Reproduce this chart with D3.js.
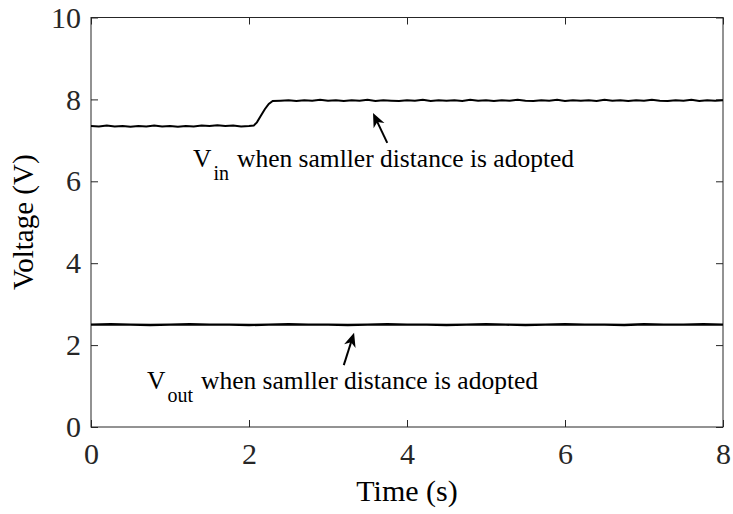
<!DOCTYPE html>
<html><head><meta charset="utf-8">
<script src="https://cdn.jsdelivr.net/npm/d3@7/dist/d3.min.js"></script>
<style>body{margin:0;background:#fff}svg{display:block}text{font-family:"Liberation Serif","Times New Roman",serif}</style>
</head><body><svg id="c" width="733" height="514"></svg>
<script>
const xTicks = [0, 2, 4, 6, 8];
const yTicks = [0, 2, 4, 6, 8, 10];
const vinTime = [0,0.1,0.2,0.3,0.4,0.5,0.6,0.7,0.8,0.9,1.0,1.1,1.2,1.3,1.4,1.5,1.6,1.7,1.8,1.9,2.0,2.06,2.1,2.15,2.2,2.25,2.3,2.4,2.5,2.6,2.7,2.8,2.9,3.0,3.1,3.2,3.3,3.4,3.5,3.6,3.7,3.8,3.9,4.0,4.1,4.2,4.3,4.4,4.5,4.6,4.7,4.8,4.9,5.0,5.1,5.2,5.3,5.4,5.5,5.6,5.7,5.8,5.9,6.0,6.1,6.2,6.3,6.4,6.5,6.6,6.7,6.8,6.9,7.0,7.1,7.2,7.3,7.4,7.5,7.6,7.7,7.8,7.9,8.0];
const vinValue = [7.35,7.34,7.36,7.34,7.35,7.33,7.35,7.34,7.36,7.34,7.35,7.33,7.35,7.34,7.36,7.35,7.37,7.35,7.36,7.34,7.35,7.36,7.44,7.60,7.76,7.89,7.96,7.97,7.98,7.96,7.98,7.97,7.99,7.97,7.98,7.96,7.98,7.97,7.99,7.96,7.98,7.97,7.96,7.98,7.97,7.99,7.96,7.98,7.97,7.98,7.96,7.99,7.97,7.98,7.96,7.98,7.97,7.99,7.97,7.96,7.98,7.97,7.99,7.96,7.98,7.97,7.98,7.96,7.99,7.97,7.98,7.96,7.98,7.97,7.99,7.97,7.96,7.98,7.97,7.99,7.96,7.98,7.97,7.98];
const voutTime = [0,0.25,0.5,0.75,1.0,1.25,1.5,1.75,2.0,2.25,2.5,2.75,3.0,3.25,3.5,3.75,4.0,4.25,4.5,4.75,5.0,5.25,5.5,5.75,6.0,6.25,6.5,6.75,7.0,7.25,7.5,7.75,8.0];
const voutValue = [2.50,2.51,2.50,2.49,2.50,2.51,2.50,2.50,2.49,2.50,2.51,2.50,2.50,2.49,2.50,2.51,2.50,2.50,2.49,2.50,2.51,2.50,2.49,2.50,2.51,2.50,2.50,2.49,2.51,2.50,2.50,2.51,2.50];

const svg = d3.select('#c');
const L = 91, R = 723, T = 17.5, B = 427;
const x = d3.scaleLinear().domain([0, 8]).range([L, R]);
const y = d3.scaleLinear().domain([0, 10]).range([B, T]);
const axisColor = '#262626';
const tickFont = '30px';

svg.append('rect').attr('x', L).attr('y', T).attr('width', R - L).attr('height', B - T)
  .attr('fill', 'none').attr('stroke', axisColor).attr('stroke-width', 1);

function styleAxis(g) {
  g.select('.domain').remove();
  g.selectAll('line').attr('stroke', axisColor);
  g.selectAll('text').attr('fill', axisColor).style('font-size', tickFont)
    .style('font-family', '"Liberation Serif","Times New Roman",serif');
}
svg.append('g').attr('transform', `translate(0,${B})`)
  .call(d3.axisBottom(x).tickValues(xTicks).tickSize(-7).tickPadding(16).tickFormat(d3.format('d')))
  .call(styleAxis);
svg.append('g').attr('transform', `translate(0,${T})`)
  .call(d3.axisTop(x).tickValues(xTicks).tickSize(-7).tickFormat(''))
  .call(styleAxis);
svg.append('g').attr('transform', `translate(${L},0)`)
  .call(d3.axisLeft(y).tickValues(yTicks).tickSize(-7).tickPadding(10).tickFormat(d3.format('d')))
  .call(styleAxis);
svg.append('g').attr('transform', `translate(${R},0)`)
  .call(d3.axisRight(y).tickValues(yTicks).tickSize(-7).tickFormat(''))
  .call(styleAxis);

const line = d3.line().x(d => x(d[0])).y(d => y(d[1]));
svg.append('path').datum(vinTime.map((t, i) => [t, vinValue[i]]))
  .attr('d', line).attr('fill', 'none').attr('stroke', '#000').attr('stroke-width', 2);
svg.append('path').datum(voutTime.map((t, i) => [t, voutValue[i]]))
  .attr('d', line).attr('fill', 'none').attr('stroke', '#000').attr('stroke-width', 2.4);

svg.append('text').attr('x', (L + R) / 2).attr('y', 501).attr('text-anchor', 'middle')
  .style('font-size', '30px').attr('fill', '#000').text('Time (s)');
svg.append('text').attr('transform', `translate(33,${(T + B) / 2}) rotate(-90)`).attr('text-anchor', 'middle')
  .style('font-size', '29px').attr('fill', '#000').text('Voltage (V)');

function arrow(x1, y1, x2, y2) {
  const ang = Math.atan2(y2 - y1, x2 - x1);
  svg.append('line').attr('x1', x1).attr('y1', y1).attr('x2', x2 - 6 * Math.cos(ang)).attr('y2', y2 - 6 * Math.sin(ang))
    .attr('stroke', '#000').attr('stroke-width', 2);
  const hl = 14, hw = 6;
  const bx = x2 - hl * Math.cos(ang), by = y2 - hl * Math.sin(ang);
  const px = -Math.sin(ang) * hw, py = Math.cos(ang) * hw;
  svg.append('path').attr('d', `M${x2},${y2} L${bx + px},${by + py} L${x2 - 10 * Math.cos(ang)},${y2 - 10 * Math.sin(ang)} L${bx - px},${by - py} Z`)
    .attr('fill', '#000');
}
arrow(x(3.75), y(6.94), x(3.57), y(7.67));
arrow(x(3.2), y(1.51), x(3.33), y(2.3));

function label(px, py, sub, rest) {
  const t = svg.append('text').attr('x', px).attr('y', py).style('font-size', '25.5px').attr('fill', '#000');
  t.append('tspan').text('V');
  t.append('tspan').attr('dx', 2).attr('dy', 13).style('font-size', '20px').text(sub);
  t.append('tspan').attr('dy', -13).attr('dx', 8).text(rest);
}
label(193, 167, 'in', 'when samller distance is adopted');
label(147, 389, 'out', 'when samller distance is adopted');
</script></body></html>
